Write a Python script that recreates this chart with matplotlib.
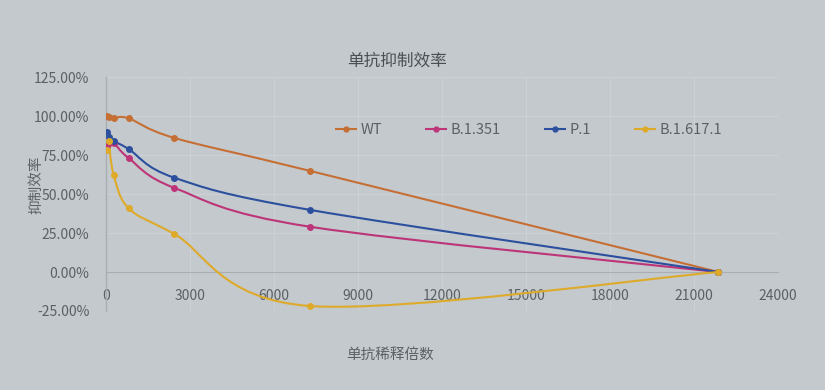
import matplotlib
matplotlib.use('Agg')
import matplotlib.pyplot as plt
from matplotlib.path import Path
from matplotlib.patches import PathPatch
from matplotlib.lines import Line2D
from matplotlib.ticker import FuncFormatter
import numpy as np

plt.rcParams['font.family'] = ['Noto Sans CJK SC', 'DejaVu Sans']

# dilution factors (x) and inhibition rate (%) per strain
dilution = [30, 90, 270, 810, 2430, 7290, 21870]
wt = [100.0, 99.5, 98.7, 98.5, 86.0, 64.8, 0.0]
b1351 = [80.8, 82.5, 83.0, 73.0, 54.0, 29.0, 0.0]
p1 = [89.7, 86.5, 84.0, 78.8, 60.5, 39.8, 0.0]
b16171 = [78.0, 84.0, 62.5, 40.8, 24.5, -21.8, 0.0]

series = [
    ('WT', wt, '#c56f35'),
    ('B.1.351', b1351, '#bd3478'),
    ('P.1', p1, '#2c4f9e'),
    ('B.1.617.1', b16171, '#deaa2a'),
]

bg = '#c4c9ce'
txt = '#5b6065'


def smooth_path(xs, ys):
    # excel style smoothed line: catmull-rom turned into cubic bezier segments
    pts = np.column_stack([xs, ys]).astype(float)
    n = len(pts)
    verts = [pts[0]]
    codes = [Path.MOVETO]
    for i in range(n - 1):
        p0 = pts[i - 1] if i > 0 else pts[i]
        p1_ = pts[i]
        p2 = pts[i + 1]
        p3 = pts[i + 2] if i + 2 < n else pts[i + 1]
        c1 = p1_ + (p2 - p0) / 6.0
        c2 = p2 - (p3 - p1_) / 6.0
        verts += [c1, c2, p2]
        codes += [Path.CURVE4] * 3
    return Path(verts, codes)


fig = plt.figure(figsize=(8.25, 3.9), dpi=100, facecolor=bg)
ax = fig.add_axes([106 / 825, 1 - 311 / 390, (778 - 106) / 825, (311 - 77) / 390])
ax.set_facecolor(bg)

handles = []
for name, vals, col in series:
    patch = PathPatch(smooth_path(dilution, vals), facecolor='none', edgecolor=col,
                      linewidth=1.5, zorder=3)
    ax.add_patch(patch)
    ax.plot(dilution, vals, linestyle='none', marker='o', markersize=4,
            color=col, zorder=4)
    handles.append(Line2D([], [], color=col, linewidth=1.5, marker='o', markersize=3.5))

ax.set_xlim(0, 24000)
ax.set_ylim(-25, 125)
ax.set_xticks(np.arange(0, 24001, 3000))
ax.set_yticks(np.arange(-25, 126, 25))
ax.yaxis.set_major_formatter(FuncFormatter(lambda v, p: '%.2f%%' % v))

ax.grid(True, color='#ccd1d5', linewidth=0.8, zorder=0)
for s in ['top', 'right']:
    ax.spines[s].set_visible(False)
ax.spines['bottom'].set_position(('data', 0))
ax.spines['bottom'].set_color('#a9aeb2')
ax.spines['left'].set_color('#a9aeb2')
ax.spines['left'].set_linewidth(1.0)
ax.tick_params(axis='both', length=0, colors=txt, labelsize=10)
ax.tick_params(axis='x', pad=12)
ax.tick_params(axis='y', pad=12)

fig.text(397 / 825, 1 - 61 / 390, '单抗抑制效率', ha='center', va='center',
         fontsize=12, color='#4a4f54')
fig.text(390 / 825, 1 - 355 / 390, '单抗稀释倍数', ha='center', va='center',
         fontsize=10.5, color=txt)
fig.text(36 / 825, 1 - 185 / 390, '抑制效率', ha='center', va='center',
         rotation=90, fontsize=10.5, color=txt)

leg = ax.legend(handles, [s[0] for s in series], ncol=4, loc='center',
                frameon=False, fontsize=10.5, handlelength=1.4,
                handletextpad=0.3, columnspacing=3.0, labelcolor=txt)
leg.set_bbox_to_anchor(((529 - 106) / 672, (311 - 130) / 234), transform=ax.transAxes)

fig.savefig('out.png', dpi=100, facecolor=bg)
